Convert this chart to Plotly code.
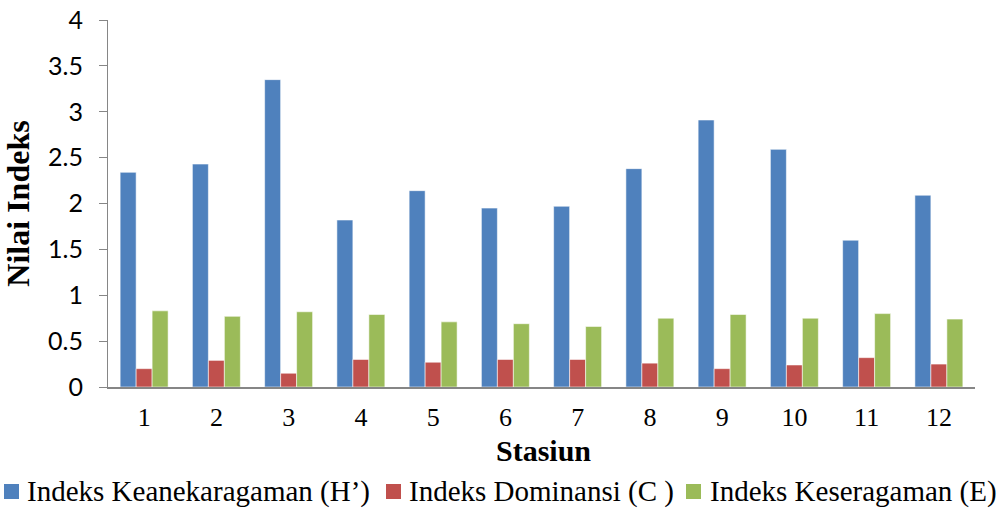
import plotly.graph_objects as go

stations = ["1", "2", "3", "4", "5", "6", "7", "8", "9", "10", "11", "12"]
h_diversity = [2.34, 2.43, 3.35, 1.82, 2.14, 1.95, 1.97, 2.38, 2.91, 2.59, 1.60, 2.09]
c_dominance = [0.20, 0.29, 0.15, 0.30, 0.27, 0.30, 0.30, 0.26, 0.20, 0.24, 0.32, 0.25]
e_evenness = [0.83, 0.77, 0.82, 0.79, 0.71, 0.69, 0.66, 0.75, 0.79, 0.75, 0.80, 0.74]
series_names = ["Indeks Keanekaragaman (H’)", "Indeks Dominansi (C )", "Indeks Keseragaman (E)"]
colors = ["#4F81BD", "#C0504D", "#9BBB59"]
x_title = "Stasiun"
y_title = "Nilai Indeks"

W, H = 999, 508
ML, MR, MT, MB = 108, 24, 20, 121
PW, PH = W - ML - MR, H - MT - MB


def px_x(px):
    return (px - ML) / PW


def px_y(py):
    return (H - MB - py) / PH


fig = go.Figure()
for name, vals, col in zip(series_names, [h_diversity, c_dominance, e_evenness], colors):
    fig.add_trace(go.Bar(
        x=stations, y=vals, name=name,
        marker=dict(color=col, line=dict(color="rgba(255,255,255,0.55)", width=1)),
        showlegend=False,
    ))

fig.update_layout(
    width=W, height=H,
    margin=dict(l=ML, r=MR, t=MT, b=MB, autoexpand=False),
    paper_bgcolor="white", plot_bgcolor="white",
    barmode="group", bargap=0.336, bargroupgap=0,
    xaxis=dict(
        showline=True, linecolor="#868686", linewidth=2,
        ticks="", showgrid=False, zeroline=False,
        tickfont=dict(family="Liberation Serif", size=26, color="black"),
        ticklabelstandoff=6,
        automargin=False,
    ),
    yaxis=dict(
        range=[0, 4], dtick=0.5, tick0=0,
        showline=True, linecolor="#868686", linewidth=1,
        ticks="outside", ticklen=8, tickcolor="#868686",
        showgrid=False, zeroline=False,
        tickfont=dict(family="Lato", size=25, color="black"),
        ticklabelstandoff=11,
        title=dict(text="<b>" + y_title + "</b>", font=dict(family="Liberation Serif", size=32, color="black")),
        automargin=False,
    ),
)

# x-axis title
fig.add_annotation(xref="paper", yref="paper", x=px_x(543), y=px_y(450),
                   xanchor="center", yanchor="middle", showarrow=False,
                   text="<b>" + x_title + "</b>",
                   font=dict(family="Liberation Serif", size=30, color="black"))

# Legend row drawn as keys + text
legend_items = [(4, 25), (386, 407), (686, 708)]
for (sq_x, tx_x), name, col in zip(legend_items, series_names, colors):
    fig.add_shape(type="rect", xref="paper", yref="paper",
                  x0=px_x(sq_x), x1=px_x(sq_x + 15), y0=px_y(499), y1=px_y(484),
                  fillcolor=col, line=dict(width=0))
    fig.add_annotation(xref="paper", yref="paper", x=px_x(tx_x), y=px_y(492),
                       xanchor="left", yanchor="middle", showarrow=False,
                       text=name, font=dict(family="Liberation Serif", size=29, color="black"))

fig.write_html(
    "out.html",
    config={"displayModeBar": False},
    post_script="document.body.style.margin='0';document.body.style.overflow='hidden';",
)
